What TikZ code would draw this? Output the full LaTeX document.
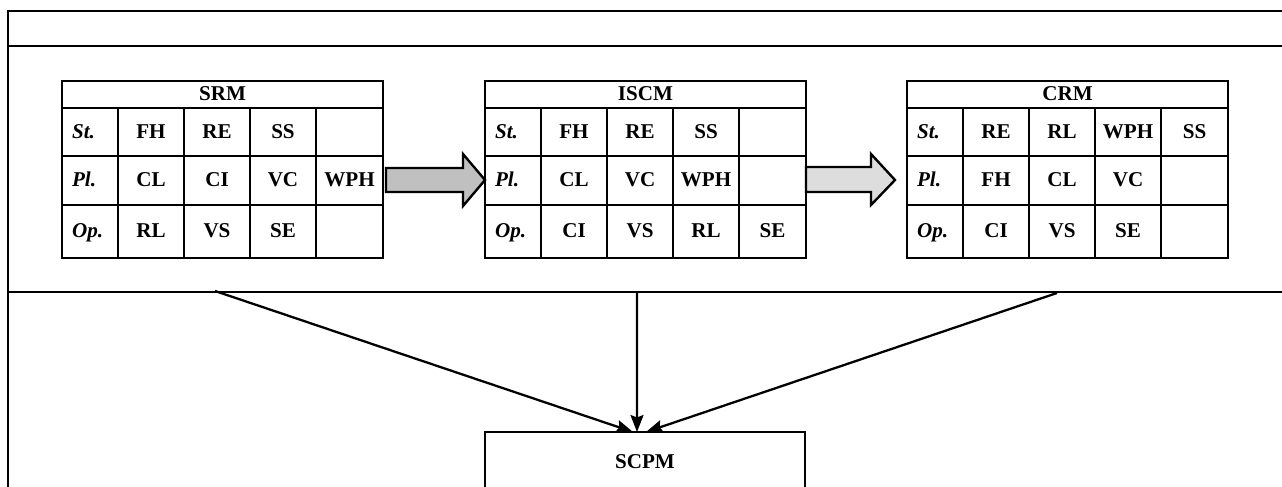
\documentclass[tikz,border=0pt]{standalone}
\usepackage{fontspec}
\setmainfont{Liberation Serif}
\usetikzlibrary{arrows.meta}

\definecolor{shaftgray}{RGB}{192,192,192}
\definecolor{palegray}{RGB}{221,221,221}

\tikzset{
  frame/.style={draw=black, line width=1.35pt},
  blockarrow/.style={draw=black, line width=1.35pt, line join=miter},
  conn/.style={draw=black, line width=1.3pt, -{Stealth[length=0.34cm,width=0.26cm,inset=0.05cm]}},
  every node/.style={font=\fontsize{12}{14}\selectfont\bfseries, inner sep=1pt,
    text height=1.65ex, text depth=0.3ex},
  rowlab/.style={anchor=west, font=\fontsize{12}{14}\selectfont\bfseries\itshape},
  modbox/.style={draw, line width=1.35pt, minimum width=6.4cm, minimum height=1.24cm, outer sep=0pt},
}

% grid and title of one module table
\newcommand{\modgrid}[2]{%
  \draw[frame] (0,81) rectangle (321,258);
  \draw[frame] (0,108) -- (321,108) (0,156) -- (321,156) (0,205) -- (321,205);
  \foreach \cx in {56,122,188,254} \draw[frame] (\cx,108) -- (\cx,258);
  \node (#1) at (160.5,95) {#2};
}
% one row of a module table
\newcommand{\modrow}[8]{%
  \node[rowlab] (#1-#2-0) at (8,#3) {#4};
  \node (#1-#2-1) at (89,#3) {#5};
  \node (#1-#2-2) at (155,#3) {#6};
  \node (#1-#2-3) at (221,#3) {#7};
  \node (#1-#2-4) at (287.5,#3) {#8};
}

\begin{document}
\begin{tikzpicture}[x=0.02cm, y=-0.02cm]
\useasboundingbox (0,0) rectangle (1282,487);

% outer frame
\draw[frame] (8,490) -- (8,11) -- (1290,11);
\draw[frame] (8,46) -- (1290,46);
\draw[frame] (8,292) -- (1290,292);

\begin{scope}[shift={(62,0)}]
  \modgrid{srm}{SRM}
  \modrow{srm}{1}{133}{St.}{FH}{RE}{SS}{}
  \modrow{srm}{2}{181}{Pl.}{CL}{CI}{VC}{WPH}
  \modrow{srm}{3}{232}{Op.}{RL}{VS}{SE}{}
\end{scope}

\begin{scope}[shift={(485,0)}]
  \modgrid{iscm}{ISCM}
  \modrow{iscm}{1}{133}{St.}{FH}{RE}{SS}{}
  \modrow{iscm}{2}{181}{Pl.}{CL}{VC}{WPH}{}
  \modrow{iscm}{3}{232}{Op.}{CI}{VS}{RL}{SE}
\end{scope}

\begin{scope}[shift={(907,0)}]
  \modgrid{crm}{CRM}
  \modrow{crm}{1}{133}{St.}{RE}{RL}{WPH}{SS}
  \modrow{crm}{2}{181}{Pl.}{FH}{CL}{VC}{}
  \modrow{crm}{3}{232}{Op.}{CI}{VS}{SE}{}
\end{scope}

% block arrows between the tables
\draw[blockarrow, fill=shaftgray] (386,168) -- (463,168) -- (463,154) -- (485,180)
  -- (463,206) -- (463,192) -- (386,192) -- cycle;
\draw[blockarrow, fill=palegray] (806,167) -- (871,167) -- (871,154) -- (895,180)
  -- (871,205) -- (871,192) -- (806,192) -- cycle;

\node[modbox] (scpm) at (645,463) {SCPM};

\coordinate (srm-out) at (215,291);
\coordinate (iscm-out) at (637,292);
\coordinate (crm-out) at (1057,293);

\draw[conn] (srm-out) -- ([xshift=-0.24cm]scpm.north);
\draw[conn] (iscm-out) -- ([xshift=-0.16cm]scpm.north);
\draw[conn] (crm-out) -- ([xshift=0.02cm]scpm.north);
\end{tikzpicture}
\end{document}
